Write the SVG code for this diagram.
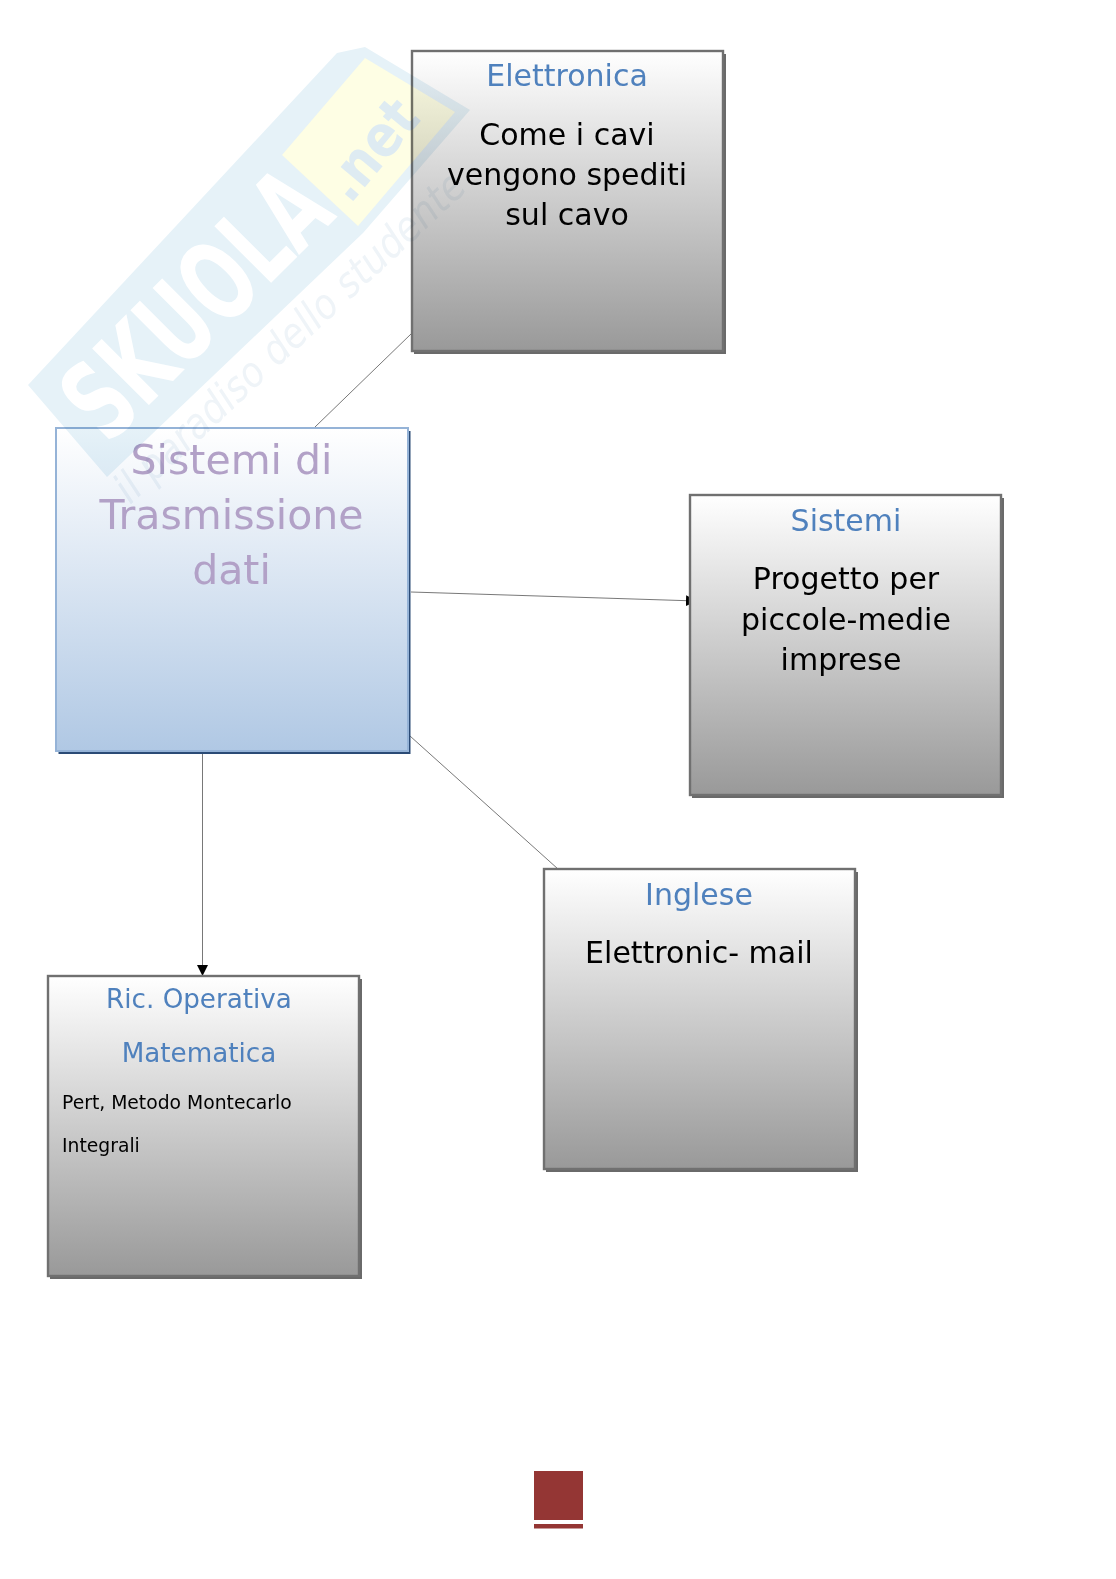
<svg xmlns="http://www.w3.org/2000/svg" width="1116" height="1579" viewBox="0 0 1116 1579">
<style>
text{font-family:"DejaVu Sans",sans-serif}
.t{font-size:30px;fill:#4f81bd;text-anchor:middle}
.b{font-size:30px;fill:#000;text-anchor:middle}
.s{fill:#4f81bd;text-anchor:middle;font-size:26.2px}
.m{font-size:18.75px;fill:#000}
.h{font-size:41px;fill:#b2a1c7;text-anchor:middle}
.g{fill:url(#gray);stroke:#707070;stroke-width:2.4}
.sh{fill:#6a6a6a}
.c{fill:none;stroke:#555;stroke-width:.8}
#watermark{mix-blend-mode:multiply}
</style>
<defs>
<linearGradient id="gray" x1="0" y1="0" x2="0" y2="1"><stop offset="0" stop-color="#fff"/><stop offset="1" stop-color="#999"/></linearGradient>
<linearGradient id="blue" x1="0" y1="0" x2="0" y2="1"><stop offset="0" stop-color="#fff"/><stop offset="1" stop-color="#b0c8e4"/></linearGradient>
<marker id="arr" markerWidth="12" markerHeight="12" refX="11" refY="5.500" orient="auto" markerUnits="userSpaceOnUse"><path d="M0 0L11 5.500L0 11Z" fill="#000"/></marker>
</defs>
<rect width="1116" height="1579" fill="#fff"/>
<g id="connectors">
<line class="c" x1="315" y1="427" x2="411" y2="334"/>
<line class="c" x1="411" y1="592" x2="697" y2="601" marker-end="url(#arr)"/>
<line class="c" x1="410" y1="736" x2="558" y2="869"/>
<line class="c" x1="202.500" y1="753" x2="202.500" y2="976" marker-end="url(#arr)"/>
</g>
<g id="node-sistemi-trasmissione">
<rect x="58.500" y="431" width="352" height="323" fill="#2a4a75"/>
<rect x="56" y="428" width="352" height="323" fill="url(#blue)" stroke="#95b3d7" stroke-width="2"/>
<text class="h" x="231.500" y="474">Sistemi di</text>
<text class="h" x="231.500" y="529">Trasmissione</text>
<text class="h" x="231.500" y="584">dati</text>
</g>
<g id="node-elettronica">
<rect class="sh" x="414" y="54" width="312" height="300"/>
<rect class="g" x="412" y="51" width="311" height="300"/>
<text class="t" x="567" y="86">Elettronica</text>
<text class="b" x="567" y="145">Come i cavi</text>
<text class="b" x="567" y="185">vengono spediti</text>
<text class="b" x="567" y="225">sul cavo</text>
</g>
<g id="node-sistemi">
<rect class="sh" x="692" y="498" width="312" height="300"/>
<rect class="g" x="690" y="495" width="311" height="300"/>
<text class="t" x="846" y="531">Sistemi</text>
<text class="b" x="846" y="589">Progetto per</text>
<text class="b" x="846" y="630">piccole-medie</text>
<text class="b" x="841" y="670">imprese</text>
</g>
<g id="node-inglese">
<rect class="sh" x="546" y="872" width="312" height="300"/>
<rect class="g" x="544" y="869" width="311" height="300"/>
<text class="t" x="699" y="905">Inglese</text>
<text class="b" x="699" y="963">Elettronic- mail</text>
</g>
<g id="node-ric-operativa">
<rect class="sh" x="50" y="979" width="312" height="300"/>
<rect class="g" x="48" y="976" width="311" height="300"/>
<text class="s" x="199" y="1008">Ric. Operativa</text>
<text class="s" x="199" y="1062">Matematica</text>
<text class="m" x="62" y="1109">Pert, Metodo Montecarlo</text>
<text class="m" x="62" y="1152">Integrali</text>
</g>
<g id="page-mark">
<rect x="534" y="1471" width="49" height="49" fill="#943634"/>
<rect x="534" y="1524" width="49" height="4.500" fill="#943634"/>
</g>
<g id="watermark">
<polygon points="28,385 337,53 365,47 470,110 363,233 107,477" fill="#e6f2f8"/>
<polygon points="282,155 365,58 455,112 358,226" fill="#fefee4"/>
<text transform="translate(108,446) rotate(-45)" font-size="110" font-weight="bold" fill="#fff" textLength="325" lengthAdjust="spacingAndGlyphs">SKUOLA</text>
<text transform="translate(350,205) rotate(-50)" font-size="58" font-weight="bold" fill="#deebf2" textLength="112" lengthAdjust="spacingAndGlyphs">.net</text>
<text transform="translate(130,505) rotate(-43)" font-size="42" font-style="italic" fill="#eff4f8" textLength="463" lengthAdjust="spacingAndGlyphs">il paradiso dello studente</text>
</g>
</svg>
